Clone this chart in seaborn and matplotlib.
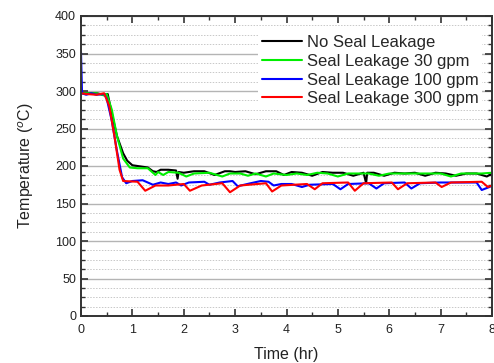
import numpy as np
import pandas as pd
import matplotlib
matplotlib.use("Agg")
import matplotlib.pyplot as plt
import seaborn as sns
from matplotlib.ticker import MultipleLocator

series_names = ["No Seal Leakage", "Seal Leakage 30 gpm", "Seal Leakage 100 gpm", "Seal Leakage 300 gpm"]
series_colors = ["#000000", "#00ee00", "#0000ff", "#ff0000"]

t_black = [0, 0.05, 0.3, 0.45, 0.52, 0.6, 0.7, 0.82, 0.9, 1.0, 1.1, 1.3, 1.4, 1.47, 1.55, 1.7, 1.85, 1.88, 1.9,
           2.0, 2.2, 2.4, 2.6, 2.8, 2.9, 3.0, 3.2, 3.4, 3.6, 3.8, 3.95, 4.1, 4.3, 4.5, 4.7, 4.9, 5.1, 5.3, 5.5,
           5.55, 5.57, 5.7, 5.9, 6.1, 6.3, 6.5, 6.7, 6.9, 7.1, 7.3, 7.5, 7.7, 7.9, 8.0]
v_black = [297, 297, 297, 295, 296, 270, 240, 217, 207, 201, 200, 198, 193, 192, 195, 195, 194, 183, 192,
           191, 193, 193, 188, 193, 193, 192, 193, 189, 193, 193, 188, 192, 191, 187, 192, 191, 191, 187, 191,
           177, 191, 191, 187, 191, 190, 191, 187, 191, 190, 187, 190, 190, 186, 190]

t_green = [0, 0.05, 0.3, 0.45, 0.5, 0.6, 0.7, 0.82, 0.95, 1.1, 1.3, 1.45, 1.5, 1.6, 1.7, 1.9, 2.05, 2.2, 2.5,
           2.75, 2.9, 3.1, 3.25, 3.4, 3.6, 3.75, 4.0, 4.2, 4.4, 4.6, 4.8, 5.0, 5.2, 5.4, 5.6, 5.8, 6.0, 6.2,
           6.4, 6.6, 6.8, 7.0, 7.2, 7.4, 7.6, 7.8, 8.0]
v_green = [297, 297, 297, 294, 296, 275, 240, 210, 198, 197, 197, 188, 192, 188, 192, 191, 186, 190, 191,
           186, 190, 190, 187, 190, 186, 190, 188, 190, 188, 191, 190, 186, 190, 190, 190, 187, 190, 190,
           190, 190, 190, 190, 186, 190, 190, 190, 191]

t_blue = [0, 0.02, 0.1, 0.2, 0.3, 0.45, 0.5, 0.6, 0.7, 0.8, 0.88, 1.0, 1.2, 1.4, 1.55, 1.7, 1.85, 1.95, 2.1,
          2.4, 2.5, 2.7, 2.95, 3.05, 3.3, 3.5, 3.65, 3.75, 3.9, 4.1, 4.3, 4.45, 4.9, 5.05, 5.2, 5.6, 5.75,
          5.9, 6.3, 6.43, 6.6, 7.0, 7.7, 7.8, 7.95, 8.0]
v_blue = [352, 297, 295, 297, 295, 296, 290, 260, 220, 185, 177, 180, 181, 175, 178, 176, 178, 174, 178,
          179, 175, 178, 180, 173, 177, 180, 179, 174, 176, 176, 172, 175, 176, 169, 176, 177, 170,
          177, 178, 170, 177, 178, 178, 168, 172, 174]

t_red = [0, 0.1, 0.3, 0.45, 0.55, 0.65, 0.75, 0.82, 1.1, 1.25, 1.45, 1.7, 2.0, 2.12, 2.35, 2.75, 2.9, 3.1,
         3.6, 3.72, 3.9, 4.4, 4.55, 4.7, 5.2, 5.33, 5.5, 6.05, 6.17, 6.35, 6.9, 7.02, 7.2, 7.8, 7.92, 8.0]
v_red = [297, 296, 295, 297, 280, 240, 195, 180, 179, 167, 174, 174, 176, 167, 174, 177, 165, 174,
         177, 166, 174, 176, 169, 177, 178, 167, 177, 178, 169, 177, 178, 172, 178, 179, 172, 174]

frames = []
for name, t, v in zip(series_names, [t_black, t_green, t_blue, t_red], [v_black, v_green, v_blue, v_red]):
    frames.append(pd.DataFrame({"Time": t, "Temp": v, "Series": name}))
df = pd.concat(frames, ignore_index=True)

sns.set_style("ticks")
plt.rcParams["font.family"] = ["Liberation Sans", "DejaVu Sans"]

fig = plt.figure(figsize=(4.94, 3.63), dpi=100)
ax = fig.add_axes([81 / 494, 1 - 316 / 363, 411 / 494, 300 / 363])

sns.lineplot(data=df, x="Time", y="Temp", hue="Series", hue_order=series_names,
             palette=series_colors, sort=False, estimator=None, linewidth=1.5, ax=ax)

ax.set_xlim(0, 8)
ax.set_ylim(0, 400)
ax.xaxis.set_major_locator(MultipleLocator(1))
ax.xaxis.set_minor_locator(MultipleLocator(0.5))
ax.yaxis.set_major_locator(MultipleLocator(50))
ax.yaxis.set_minor_locator(MultipleLocator(12.5))
ax.grid(which="major", axis="y", color="#b4b4b4", linewidth=1.0, linestyle="-")
ax.grid(which="minor", axis="y", color="#c8c8c8", linewidth=0.7, linestyle=(0, (1.5, 1.5)))
ax.set_axisbelow(True)
ax.tick_params(which="both", direction="in", top=True, right=True, labelsize=9, colors="#333333",
               labelcolor="#222222")
ax.tick_params(which="major", length=5, width=1.2)
ax.tick_params(axis="x", which="major", pad=6)
ax.tick_params(which="minor", length=3, width=1.0)
for s in ax.spines.values():
    s.set_color("#333333")
    s.set_linewidth(1.4)

ax.set_xlabel("Time (hr)", fontsize=11.5, color="#222222", labelpad=8)
ax.set_ylabel("Temperature ($^{o}$C)", fontsize=11.5, color="#222222", labelpad=14)

leg = ax.legend(loc="upper right", bbox_to_anchor=(0.995, 0.975), fontsize=12, frameon=True,
                handlelength=2.4, handletextpad=0.3, labelspacing=0.22, borderpad=0.2)
leg.get_frame().set_facecolor("white")
leg.get_frame().set_edgecolor("none")
leg.get_frame().set_alpha(1.0)
for line in leg.get_lines():
    line.set_linewidth(1.5)

fig.savefig("out.png", dpi=100)
